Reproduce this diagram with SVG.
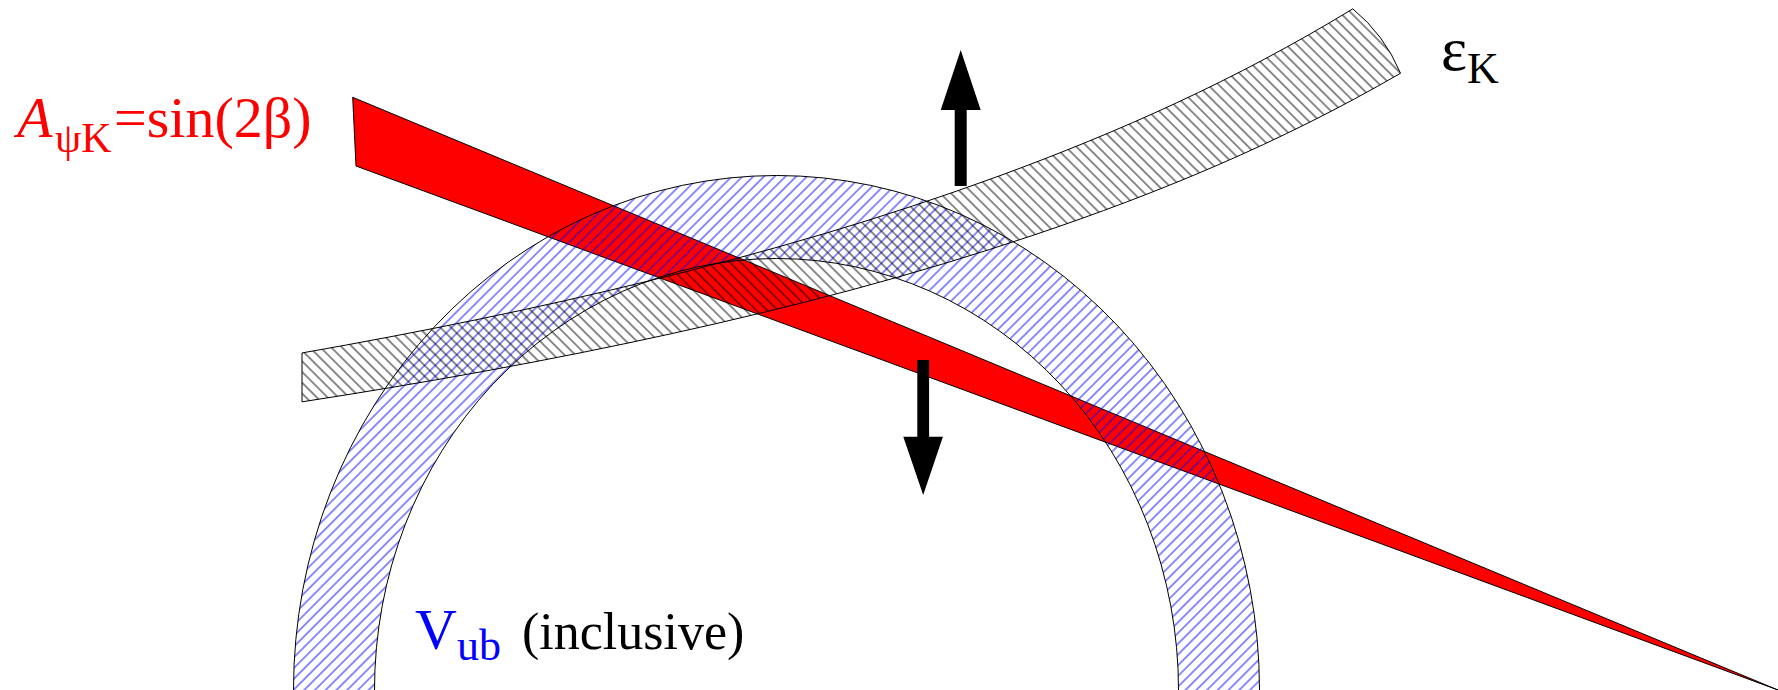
<svg xmlns="http://www.w3.org/2000/svg" width="1778" height="690" viewBox="0 0 1778 690">
<style>
.lbl{font-family:"Liberation Serif","Times New Roman",serif;}
.out{stroke:#000;stroke-width:1;stroke-linejoin:miter;}
</style>
<defs>
<pattern id="hatchBlue" patternUnits="userSpaceOnUse" width="7.6" height="7.6" patternTransform="rotate(45)">
<line x1="3.8" y1="-1" x2="3.8" y2="8.6" stroke="#0000ff" stroke-width="0.9"/>
</pattern>
<pattern id="hatchBlack" patternUnits="userSpaceOnUse" width="7.6" height="7.6" patternTransform="rotate(-45)">
<line x1="3.8" y1="-1" x2="3.8" y2="8.6" stroke="#000" stroke-width="0.9"/>
</pattern>
</defs>
<rect width="1778" height="690" fill="#fff"/>
<g id="sin2beta-band">
<polygon class="out" points="352.7,97.3 1778,690 356,166" fill="#ff0000"/>
</g>
<g id="vub-ring">
<path class="out" fill="url(#hatchBlue)" fill-rule="evenodd" d="M293.5,690 A483,514.5 0 1 1 1259.5,690 A483,514.5 0 1 1 293.5,690 Z M374.5,690 A402,431.5 0 1 1 1178.5,690 A402,431.5 0 1 1 374.5,690 Z"/>
</g>
<g id="epsk-band">
<path class="out" fill="url(#hatchBlack)" d="M302,352.95 C418,332.54 534,309.10 650,280.63 C766.67,252 883.33,218.42 1000,175.63 C1117.6,132.5 1235.2,80.5 1352.8,8.84 Q1384.6,35 1400.5,73.25 C1278.67,143.82 1156.83,193.64 1035,234.66 C913.33,275.63 791.67,307.24 670,334 C547.33,360.98 424.67,382.88 302,401.83 Z"/>
</g>
<g id="arrows">
<polygon id="arrow-up" fill="#000" points="954.7,186 954.7,110 940.7,110 960.7,50 980.7,110 966.7,110 966.7,186"/>
<polygon id="arrow-down" fill="#000" points="917.3,360 929.1,360 929.1,436.7 942.9,436.7 923.2,495 903.3,436.7 917.3,436.7"/>
</g>
<g id="label-sin2beta" class="lbl" fill="#ff0000">
<text x="17" y="137" font-size="58" font-style="italic">A</text>
<text x="55" y="152" font-size="42">ψK</text>
<text x="114" y="137" font-size="58">=sin(2β)</text>
</g>
<g id="label-epsk" class="lbl" fill="#000">
<text x="1441" y="70" font-size="62">ε</text>
<text x="1467" y="83" font-size="44">K</text>
</g>
<g id="label-vub" class="lbl">
<text x="415" y="649" font-size="58" fill="#0000ff">V</text>
<text x="457" y="660" font-size="44" fill="#0000ff">ub</text>
<text x="522" y="649" font-size="52" fill="#000">(inclusive)</text>
</g>
</svg>
